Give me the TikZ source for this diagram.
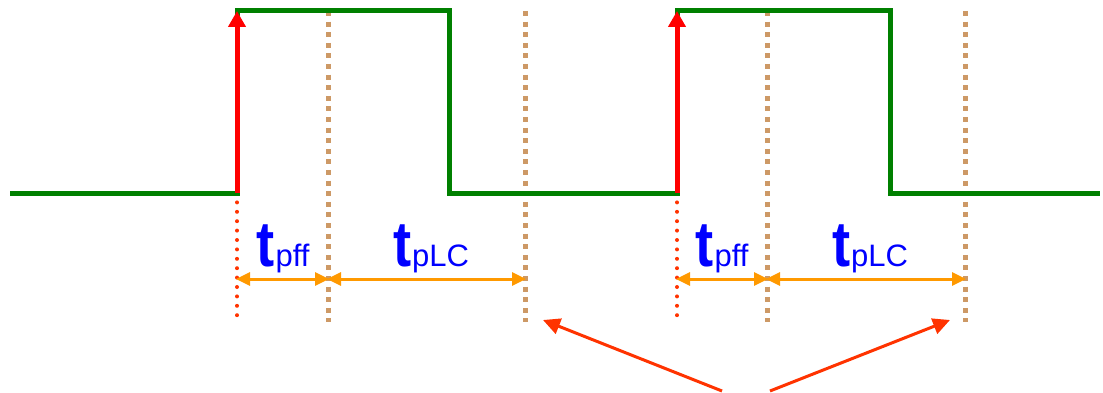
\documentclass[tikz,border=0pt]{standalone}
\usepackage{fontspec}
\setmainfont{Liberation Sans}
\usetikzlibrary{arrows.meta}
\definecolor{wgreen}{RGB}{0,128,0}
\definecolor{tan}{RGB}{205,153,102}
\definecolor{dimorange}{RGB}{255,153,0}
\definecolor{callred}{RGB}{255,51,0}
\tikzset{
  wave/.style={wgreen,line width=5pt,line join=miter},
  edgearrow/.style={red,line width=5pt,-{Triangle[length=16pt,width=17pt]}},
  reddots/.style={callred,line width=4pt,line cap=round,dash pattern=on 0pt off 9.4pt},
  tandots/.style={tan,line width=5pt,dash pattern=on 5pt off 5.6pt},
  dim/.style={dimorange,line width=3pt,{Triangle[length=14pt,width=13pt]}-{Triangle[length=14pt,width=13pt]},shorten <=-1pt,shorten >=-1pt},
  callout/.style={callred,line width=3pt,-{Triangle[length=17pt,width=16pt]}},
  lbl/.style={blue,inner sep=0pt,anchor=base}
}
\newcommand{\tlab}[1]{\scalebox{0.85}[1]{\fontsize{64}{64}\selectfont\bfseries t}\hspace{1pt}{\fontsize{31}{31}\selectfont #1}}
\begin{document}
\begin{tikzpicture}[x=1pt,y=-1pt]
\useasboundingbox (0,0) rectangle (1103,393);
% waveform corners
\coordinate (w0) at (10,193);
\coordinate (w1) at (237,193);
\coordinate (w2) at (237,11);
\coordinate (w3) at (449,11);
\coordinate (w4) at (449,193);
\coordinate (w5) at (677,193);
\coordinate (w6) at (677,11);
\coordinate (w7) at (890,11);
\coordinate (w8) at (890,193);
\coordinate (w9) at (1100,193);
% dotted vertical ends
\coordinate (a1) at (237,320);
\coordinate (a2) at (677,320);
\coordinate (b1t) at (328,11); \coordinate (b1b) at (328,322);
\coordinate (c1t) at (525,11); \coordinate (c1b) at (525,322);
\coordinate (b2t) at (767,11); \coordinate (b2b) at (767,322);
\coordinate (c2t) at (965,11); \coordinate (c2b) at (965,322);
% dimension points
\coordinate (d1a) at (237,279); \coordinate (d1b) at (328,279); \coordinate (d1c) at (525,279);
\coordinate (d2a) at (677,279); \coordinate (d2b) at (767,279); \coordinate (d2c) at (965,279);
% callout points
\coordinate (k1) at (722,391); \coordinate (k1e) at (543,320);
\coordinate (k2) at (770,391); \coordinate (k2e) at (950,320);

\draw[tandots] (b1t) -- (b1b);
\draw[tandots] (c1t) -- (c1b);
\draw[tandots] (b2t) -- (b2b);
\draw[tandots] (c2t) -- (c2b);
\draw[reddots] (w1) -- (a1);
\draw[reddots] (w5) -- (a2);

\draw[wave] (w0) -- (w1) -- (w2) -- (w3) -- (w4) -- (w5) -- (w6) -- (w7) -- (w8) -- (w9);
\draw[edgearrow] (w1) -- (w2);
\draw[edgearrow] (w5) -- (w6);

\draw[dim] (d1a) -- (d1b);
\draw[dim] (d1b) -- (d1c);
\draw[dim] (d2a) -- (d2b);
\draw[dim] (d2b) -- (d2c);

\node[lbl] (l1) at (283,266) {\tlab{pff}};
\node[lbl] (l2) at (431,266) {\tlab{pLC}};
\node[lbl] (l3) at (722,266) {\tlab{pff}};
\node[lbl] (l4) at (870,266) {\tlab{pLC}};

\draw[callout] (k1) -- (k1e);
\draw[callout] (k2) -- (k2e);
\end{tikzpicture}
\end{document}
